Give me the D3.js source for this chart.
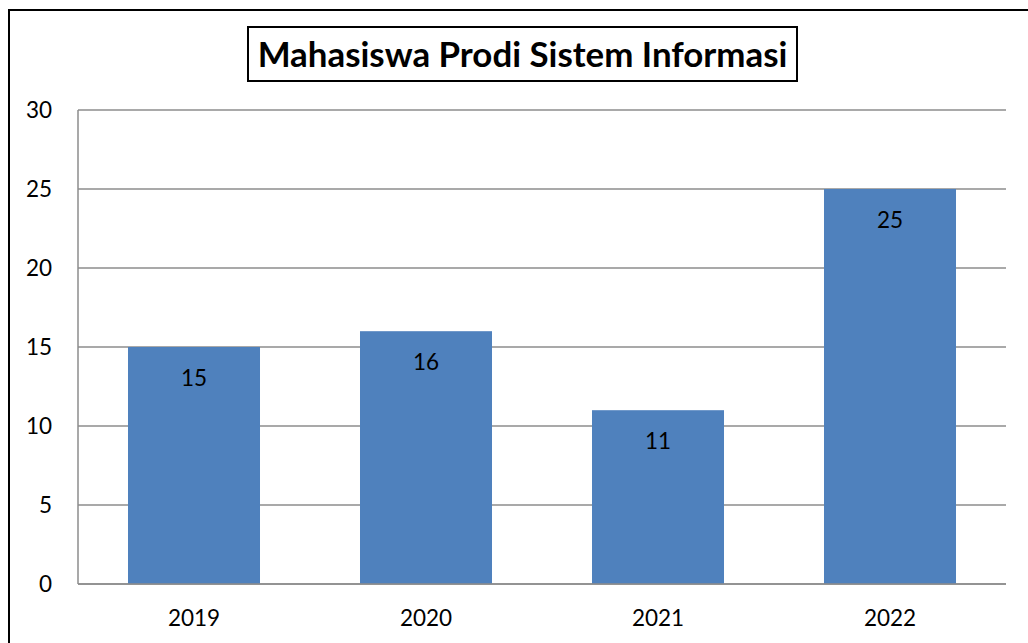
<!DOCTYPE html>
<html><head><meta charset="utf-8">
<script src="https://cdn.jsdelivr.net/npm/d3@7"></script>
<style>html,body{margin:0;padding:0;background:#fff;}svg{display:block;}</style>
</head><body>
<svg id="c" width="1028" height="643"></svg>
<script>
const title = "Mahasiswa Prodi Sistem Informasi";
const years = ["2019", "2020", "2021", "2022"];
const students = [15, 16, 11, 25];
const yTicks = [0, 5, 10, 15, 20, 25, 30];

const svg = d3.select("#c");
const font = "Lato, 'Open Sans', sans-serif";
const fs = 22.5;
const m = {left: 78, right: 1006, top: 110, bottom: 584};

// outer frame
svg.append("rect").attr("x", 9).attr("y", 10).attr("width", 1040).attr("height", 660)
  .attr("fill", "none").attr("stroke", "#000").attr("stroke-width", 2);

const x = d3.scaleBand().domain(years).range([m.left, m.right]).paddingInner(0).paddingOuter(0);
const y = d3.scaleLinear().domain([0, 30]).range([m.bottom, m.top]);

// gridlines
svg.append("g").selectAll("line").data(yTicks).join("line")
  .attr("x1", m.left).attr("x2", m.right)
  .attr("y1", d => y(d)).attr("y2", d => y(d))
  .attr("stroke", "#8c8c8c").attr("stroke-width", 1.5);
// left axis line
svg.append("line").attr("x1", m.left).attr("x2", m.left).attr("y1", m.top).attr("y2", m.bottom)
  .attr("stroke", "#8c8c8c").attr("stroke-width", 1.5);

// y tick labels
svg.append("g").selectAll("text").data(yTicks).join("text")
  .attr("x", 52).attr("y", d => y(d)).attr("dy", "0.35em")
  .attr("text-anchor", "end").attr("font-family", font).attr("font-size", fs)
  .attr("fill", "#000").text(d => d);

// bars
const inset = 0.2155;
const bw = x.bandwidth() * (1 - 2 * inset);
svg.append("g").selectAll("rect").data(students).join("rect")
  .attr("x", (d, i) => x(years[i]) + x.bandwidth() * inset)
  .attr("width", bw)
  .attr("y", d => y(d)).attr("height", d => y(0) - y(d))
  .attr("fill", "#4f81bd");
// redraw x axis baseline over bars
svg.append("line").attr("x1", m.left).attr("x2", m.right).attr("y1", y(0)).attr("y2", y(0))
  .attr("stroke", "#8c8c8c").attr("stroke-width", 1.5);

// value labels
svg.append("g").selectAll("text").data(students).join("text")
  .attr("x", (d, i) => x(years[i]) + x.bandwidth() / 2)
  .attr("y", d => y(d) + 31).attr("dy", "0.35em")
  .attr("text-anchor", "middle").attr("font-family", font).attr("font-size", fs)
  .attr("fill", "#000").text(d => d);

// x labels
svg.append("g").selectAll("text").data(years).join("text")
  .attr("x", d => x(d) + x.bandwidth() / 2).attr("y", 618).attr("dy", "0.35em")
  .attr("text-anchor", "middle").attr("font-family", font).attr("font-size", fs)
  .attr("fill", "#000").text(d => d);

// title
svg.append("rect").attr("x", 248).attr("y", 27).attr("width", 549).attr("height", 54)
  .attr("fill", "#fff").attr("stroke", "#000").attr("stroke-width", 2);
const t = svg.append("text").attr("x", 522.5).attr("y", 55).attr("dy", "0.35em")
  .attr("text-anchor", "middle").attr("font-family", font).attr("font-weight", "bold")
  .attr("font-size", 30).attr("fill", "#000").text(title);
const w = t.node().getComputedTextLength();
t.attr("font-size", 30 * 530 / w);
</script>
</body></html>
